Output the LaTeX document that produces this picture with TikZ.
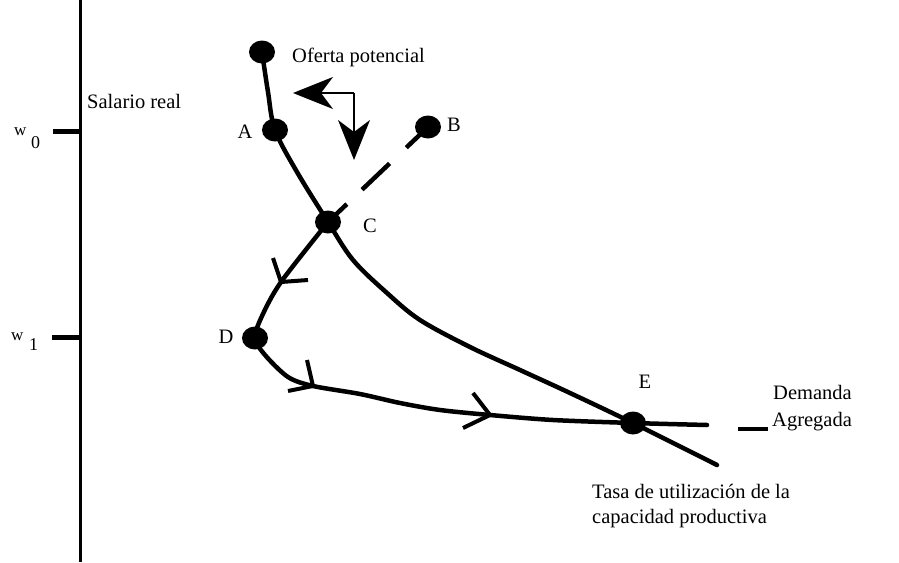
\documentclass[tikz,border=0pt]{standalone}
\usepackage{fontspec}
\setmainfont{Liberation Serif}
\usetikzlibrary{arrows.meta,shapes.geometric}
\begin{document}
\begin{tikzpicture}[x=1pt,y=-1pt,
  dot/.style={ellipse,fill=black,inner sep=0pt,minimum width=26pt,minimum height=23pt},
  curve/.style={line width=4.5pt,line cap=round,line join=round},
  barb/.style={line width=4pt,line cap=butt,line join=miter},
  lbl/.style={font=\fontsize{20.5}{25}\selectfont,inner sep=0pt},
  wlbl/.style={font=\fontsize{17}{20}\selectfont,inner sep=0pt,anchor=base west},
  sublbl/.style={font=\fontsize{18}{20}\selectfont,inner sep=0pt,anchor=base west},
  bigtip/.style={-{Stealth[length=40pt,width=32pt,inset=12pt]}},
  tick/.style={line width=5pt}
]
\useasboundingbox (0,0) rectangle (899,562);

% axis
\coordinate (axtop) at (80,0);
\coordinate (axbot) at (80,562);
\draw[line width=3pt] (axtop) -- (axbot);
\coordinate (t0a) at (53,131); \coordinate (t0b) at (80,131);
\coordinate (t1a) at (52,337); \coordinate (t1b) at (80,337);
\draw[tick] (t0a) -- (t0b);
\draw[tick] (t1a) -- (t1b);
\node[wlbl] (w0) at (14,135) {w};
\node[sublbl] (w0s) at (31,148) {0};
\node[wlbl] (w1) at (11,340) {w};
\node[sublbl] (w1s) at (29,350) {1};
\node[lbl,anchor=base west] (salario) at (87,108) {Salario real};

% points
\node[dot] (top) at (262,52) {};
\node[dot] (A) at (275,130) {};
\node[dot] (B) at (428,127) {};
\node[dot] (C) at (328,222) {};
\node[dot] (D) at (255,338) {};
\node[dot] (E) at (633,423) {};

% labels
\node[lbl,anchor=base west] (oferta) at (292,62) {Oferta potencial};
\node[lbl] (lA) at (245,132) {A};
\node[lbl] (lB) at (454,125) {B};
\node[lbl] (lC) at (370,226) {C};
\node[lbl] (lD) at (226,337) {D};
\node[lbl] (lE) at (645,382) {E};
\node[lbl,anchor=base west] (dem1) at (773,399) {Demanda};
\node[lbl,anchor=base west] (dem2) at (772,426) {Agregada};
\node[lbl,anchor=base west] (tasa1) at (592,498) {Tasa de utilización de la};
\node[lbl,anchor=base west] (tasa2) at (592,523) {capacidad productiva};

% oferta curve
\coordinate (o1) at (268,92);
\coordinate (o2) at (297,172);
\coordinate (o3) at (353,260);
\coordinate (o3b) at (387,293);
\coordinate (o4) at (420,320);
\coordinate (o5) at (470,347);
\coordinate (o6) at (520,370);
\coordinate (o7) at (570,393);
\coordinate (oend) at (717,465);
\draw[curve] plot[smooth,tension=0.55] coordinates
  {(top.center) (o1) (A.center) (o2) (C.center) (o3) (o3b) (o4) (o5) (o6) (o7) (E.center) (oend)};

% demand curve
\coordinate (d1) at (281,282);
\coordinate (d2) at (262,316);
\coordinate (d3) at (265,355);
\coordinate (d4) at (288,377);
\coordinate (d5) at (313,386);
\coordinate (d6) at (360,394);
\coordinate (d7) at (400,403);
\coordinate (d8) at (440,410);
\coordinate (d9) at (490,415);
\coordinate (d10) at (553,420);
\coordinate (dend) at (707,425);
\draw[curve] plot[smooth,tension=0.5] coordinates
  {(C.center) (d1) (d2) (D.center) (d3) (d4) (d5) (d6) (d7) (d8) (d9) (d10) (E.center) (dend)};

% direction barbs
\coordinate (b1a) at (273,258); \coordinate (b1b) at (308,280);
\coordinate (b2a) at (307,360); \coordinate (b2b) at (288,391);
\coordinate (b3a) at (473,393); \coordinate (b3b) at (463,428);
\draw[barb] (b1a) -- (d1) -- (b1b);
\draw[barb] (b2a) -- (d5) -- (b2b);
\draw[barb] (b3a) -- (d9) -- (b3b);

% dashed B--C
\draw[line width=4.5pt,dash pattern=on 26pt off 21pt on 38pt off 23pt on 80pt] (C.center) -- (B.center);

% short dash near label
\coordinate (s1) at (738,429); \coordinate (s2) at (768,429);
\draw[line width=4.5pt] (s1) -- (s2);

% L-shaped arrow
\coordinate (corner) at (354,93);
\coordinate (leftTip) at (293,93);
\coordinate (downTip) at (354,160);
\draw[line width=2pt,bigtip] (corner) -- (leftTip);
\draw[line width=2pt,bigtip] (corner) -- (downTip);
\end{tikzpicture}
\end{document}
